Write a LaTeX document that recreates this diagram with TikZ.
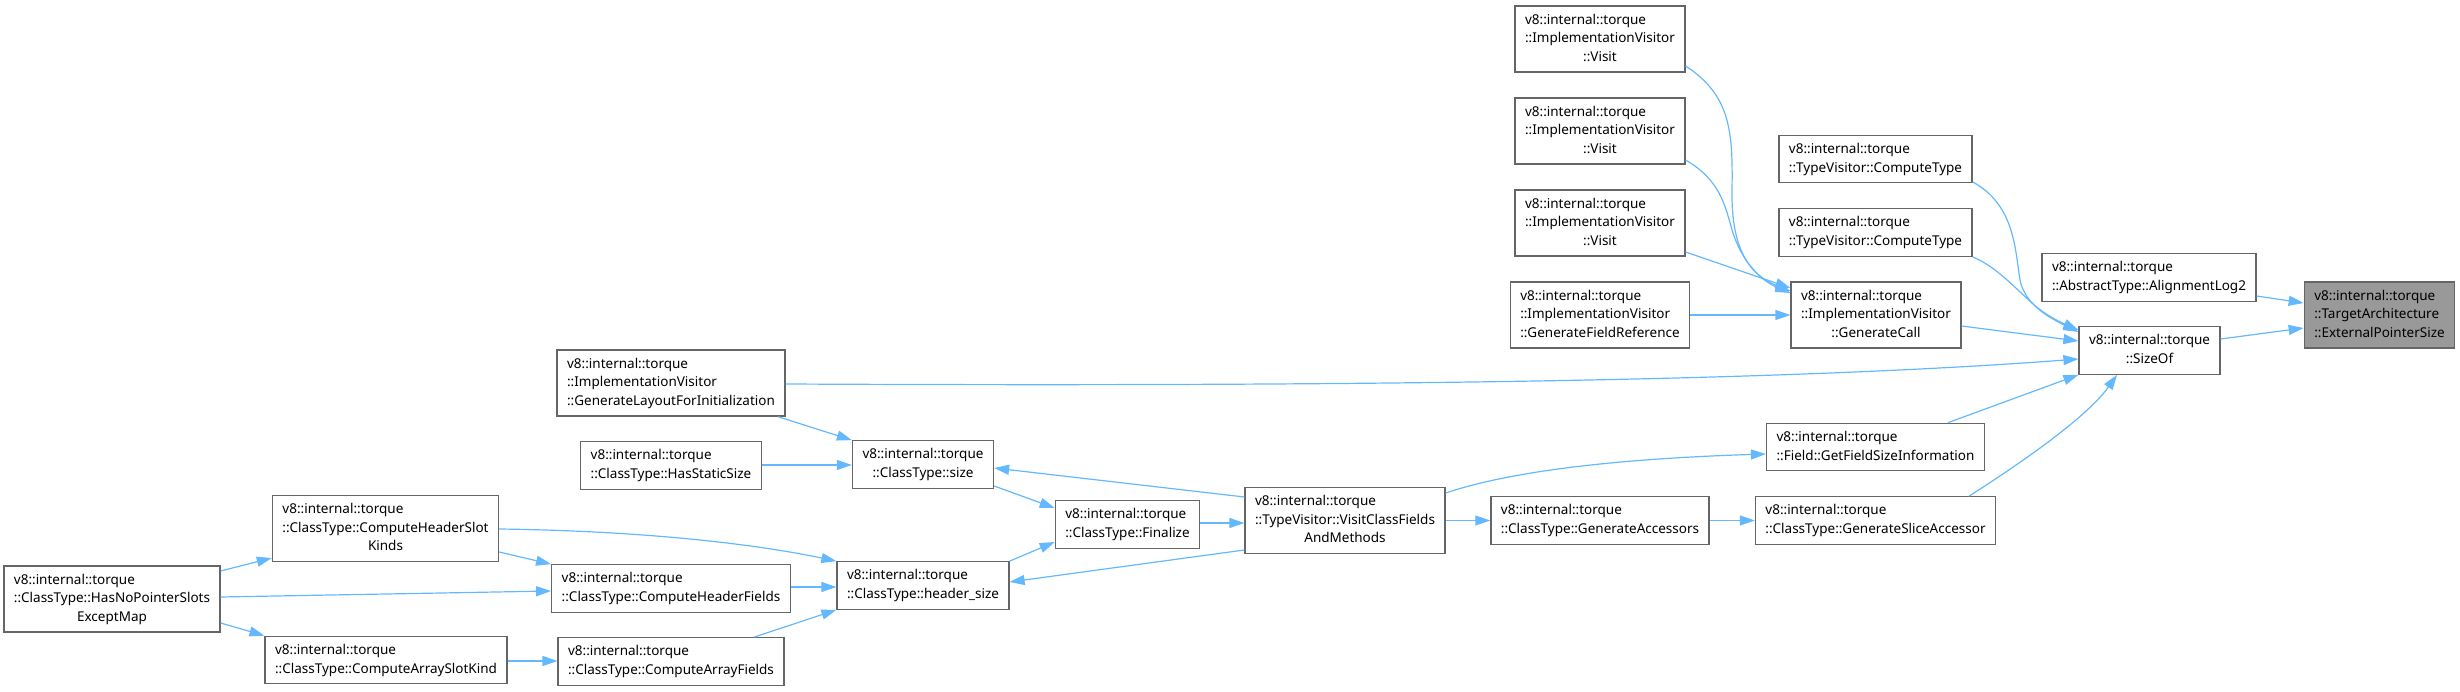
\documentclass[tikz,border=0pt]{standalone}
\usepackage{fontspec}
\setmainfont{Noto Sans}
\usepackage{tikz}
\usetikzlibrary{arrows.meta,positioning,calc}

\definecolor{edgeblue}{HTML}{63B8FF}
\definecolor{boxgray}{HTML}{666666}
\definecolor{curgray}{HTML}{999999}

\newcommand{\tqtwo}[1]{\begin{tabular}{@{}l@{}}v8::internal::torque\\\multicolumn{1}{@{}c@{}}{#1}\end{tabular}}
\newcommand{\tqthree}[2]{\begin{tabular}{@{}l@{}}v8::internal::torque\\#1\\\multicolumn{1}{@{}c@{}}{#2}\end{tabular}}

\begin{document}
\begin{tikzpicture}[x=1pt, y=-1pt,
    fn/.style={draw=boxgray, line width=1.3pt, fill=white, rectangle, inner xsep=10pt, inner ysep=5pt,
      font=\fontsize{13.5}{18.7}\selectfont},
    fncur/.style={fn, fill=curgray},
    call/.style={draw=edgeblue, line width=1.2pt, -{Triangle[length=15pt,width=10pt]}}]

\useasboundingbox (0,0) rectangle (2460,692);

% Target and its direct callers
\node[fncur] (epsz) at (2379.5,315) {\tqthree{::TargetArchitecture}{::ExternalPointerSize}};
\node[fn] (align) at (2149,277.5) {\tqtwo{::AbstractType::AlignmentLog2}};
\node[fn] (sizeof) at (2149.5,350.5) {\tqtwo{::SizeOf}};

% Callers of SizeOf
\node[fn] (ctypeA) at (1875.5,159) {\tqtwo{::TypeVisitor::ComputeType}};
\node[fn] (ctypeB) at (1875.5,232.5) {\tqtwo{::TypeVisitor::ComputeType}};
\node[fn] (gencall) at (1876,315) {\tqthree{::ImplementationVisitor}{::GenerateCall}};
\node[fn] (getfsi) at (1875.5,447) {\tqtwo{::Field::GetFieldSizeInformation}};
\node[fn] (slice) at (1875.5,520.5) {\tqtwo{::ClassType::GenerateSliceAccessor}};

% Callers of GenerateCall
\node[fn] (visitA) at (1600,39) {\tqthree{::ImplementationVisitor}{::Visit}};
\node[fn] (visitB) at (1600,131) {\tqthree{::ImplementationVisitor}{::Visit}};
\node[fn] (visitC) at (1600,223) {\tqthree{::ImplementationVisitor}{::Visit}};
\node[fn] (genfref) at (1600,315) {\tqthree{::ImplementationVisitor}{::GenerateFieldReference}};
\node[fn] (genacc) at (1600,520.5) {\tqtwo{::ClassType::GenerateAccessors}};

% Class layout chain
\node[fn] (visitcf) at (1345,520.5) {\tqthree{::TypeVisitor::VisitClassFields}{AndMethods}};
\node[fn] (finalize) at (1127.5,524.5) {\tqtwo{::ClassType::Finalize}};
\node[fn] (size) at (923,464.5) {\tqtwo{::ClassType::size}};
\node[fn] (hdrsize) at (923,585.5) {\tqtwo{::ClassType::header\_size}};
\node[fn] (layout) at (671,383) {\tqthree{::ImplementationVisitor}{::GenerateLayoutForInitialization}};
\node[fn] (hasstatic) at (671,465.5) {\tqtwo{::ClassType::HasStaticSize}};
\node[fn] (hfields) at (671,588.5) {\tqtwo{::ClassType::ComputeHeaderFields}};
\node[fn] (afields) at (671,661.5) {\tqtwo{::ClassType::ComputeArrayFields}};
\node[fn] (hslot) at (385.5,528.5) {\tqthree{::ClassType::ComputeHeaderSlot}{Kinds}};
\node[fn] (aslot) at (386,660) {\tqtwo{::ClassType::ComputeArraySlotKind}};
\node[fn] (nopslots) at (112,599) {\tqthree{::ClassType::HasNoPointerSlots}{ExceptMap}};

% Edges into the target
\draw[call] (align.east |- 0,296) -- (epsz.west |- 0,303);
\draw[call] (sizeof.east |- 0,339) -- (epsz.west |- 0,328);

% Edges into SizeOf
\draw[call] (gencall.east |- 0,326) -- (sizeof.west |- 0,341);
\draw[call] (ctypeA.east |- 0,182) .. controls (2015,205) and (2015,250) .. (2020,280)
  .. controls (2025,305) and (2050,318) .. (sizeof.west |- 0,332);
\draw[call] (ctypeB.east |- 0,257) .. controls (1995,266) and (2012,285) .. (2032,303)
  .. controls (2045,315) and (2060,322) .. (sizeof.west |- 0,330);
\draw[call] (layout.east |- 0,384) .. controls (1400,387) and (1800,380) .. (sizeof.west |- 0,359);
\draw[call] (getfsi.north -| 1948,0) -- (sizeof.south west);
\draw[call] (slice.north -| 1969,0) .. controls (2010,470) and (2085,420) .. (sizeof.south -| 2117,0);

% Edges into GenerateCall
\draw[call] (visitA.east |- 0,66) .. controls (1730,95) and (1733,130) .. (1732,190)
  .. controls (1731,250) and (1750,275) .. (gencall.west |- 0,291);
\draw[call] (visitB.east |- 0,160) .. controls (1720,180) and (1725,205) .. (1732,230)
  .. controls (1742,262) and (1760,280) .. (gencall.west |- 0,293);
\draw[call] (visitC.east |- 0,252) -- (gencall.west |- 0,288);
\draw[call] (genfref) -- (gencall);

% Edges from VisitClassFieldsAndMethods
\draw[call] (visitcf.east |- 0,493) .. controls (1520,468) and (1640,458) .. (getfsi.west |- 0,454);
\draw[call] (visitcf) -- (genacc);
\draw[call] (genacc) -- (slice);
\draw[call] (visitcf.west |- 0,497) -- (size.east |- 0,468);
\draw[call] (visitcf.west |- 0,550) -- (hdrsize.east |- 0,582);
\draw[call] (finalize.east |- 0,523) -- (visitcf.west |- 0,523);

% Edges into Finalize, size and header_size
\draw[call] (size.east |- 0,486) -- (finalize.west |- 0,508);
\draw[call] (hdrsize.north east) -- (finalize.west |- 0,542);
\draw[call] (layout.south -| 778,0) -- (size.north west);
\draw[call] (hasstatic.east |- 0,465) -- (size.west |- 0,465);
\draw[call] (hslot.east |- 0,529) .. controls (650,531) and (760,545) .. (hdrsize.north west);
\draw[call] (hfields.east |- 0,587) -- (hdrsize.west |- 0,587);
\draw[call] (afields.north -| 754,0) -- (hdrsize.south west);

% Edges from the left
\draw[call] (hslot.east |- 0,552) -- (hfields.north west);
\draw[call] (nopslots.east |- 0,571) -- (hslot.west |- 0,558);
\draw[call] (nopslots.east |- 0,597) -- (hfields.west |- 0,591);
\draw[call] (nopslots.east |- 0,623) -- (aslot.north west);
\draw[call] (aslot.east |- 0,661) -- (afields.west |- 0,661);
\end{tikzpicture}
\end{document}
